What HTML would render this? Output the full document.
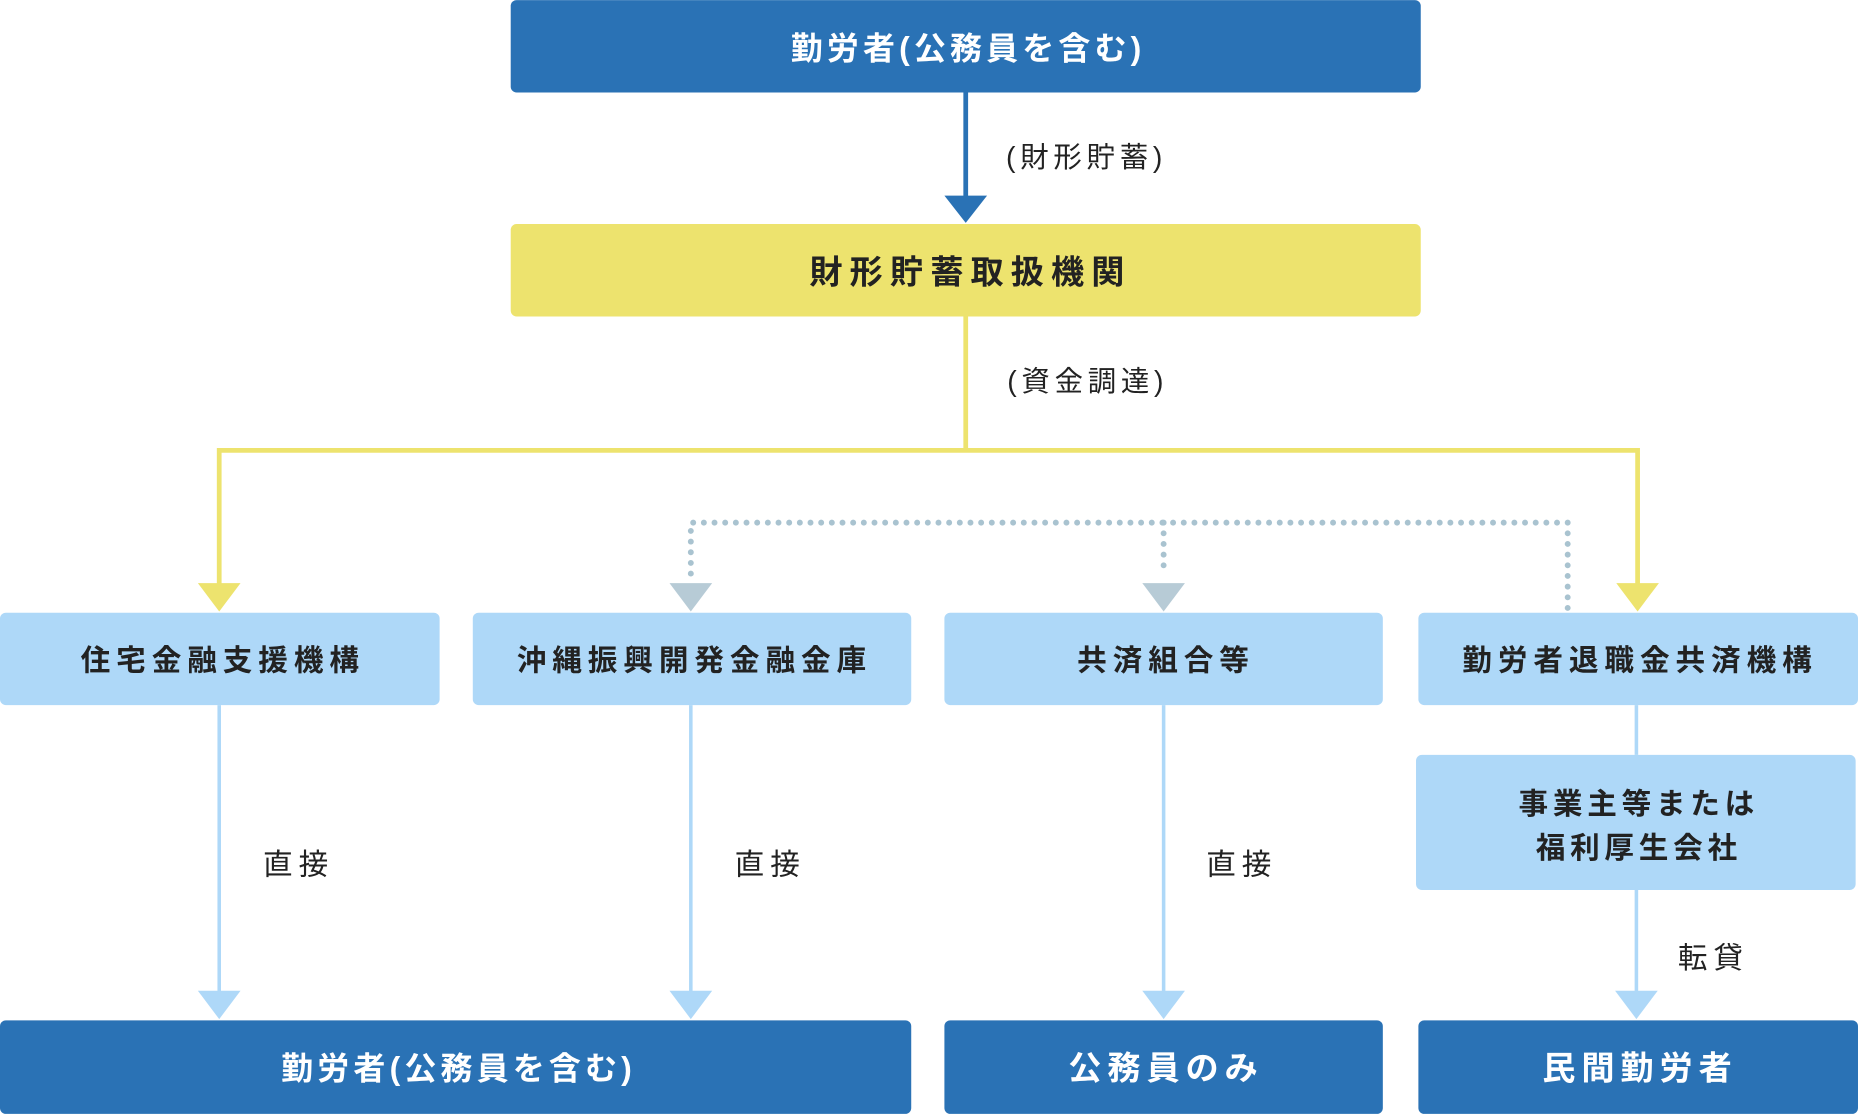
<!DOCTYPE html>
<html><head><meta charset="utf-8"><style>
html,body{margin:0;padding:0;background:#fff;}
svg{display:block;}
text{font-family:"Liberation Sans","Noto Sans CJK JP",sans-serif;}
.w{fill:#fff;font-weight:bold;font-size:27px;letter-spacing:3.5px;}
.d{fill:#222;font-weight:bold;font-size:25px;letter-spacing:5px;}
.l{fill:#222;font-size:24px;letter-spacing:4px;}
</style></head><body>
<svg width="1858" height="1114" viewBox="0 0 1568 940" xmlns="http://www.w3.org/2000/svg">
<rect x="431" y="0" width="768" height="78" rx="5" fill="#2a72b5"/>
<text class="w" x="817" y="50" text-anchor="middle">勤労者(公務員を含む)</text>
<line x1="815" y1="78" x2="815" y2="168" stroke="#2a72b5" stroke-width="4"/>
<polygon points="797,165 833,165 815,188" fill="#2a72b5"/>
<text class="l" x="849" y="141">(財形貯蓄)</text>
<rect x="431" y="189" width="768" height="78" rx="5" fill="#ede36e"/>
<text class="d" x="819" y="239" text-anchor="middle" style="font-size:28px;letter-spacing:6px">財形貯蓄取扱機関</text>
<polyline points="815,267 815,380" fill="none" stroke="#ede36e" stroke-width="4"/>
<polyline points="185,495 185,380 1382,380 1382,495" fill="none" stroke="#ede36e" stroke-width="4"/>
<polygon points="167,492 203,492 185,516" fill="#ede36e"/>
<polygon points="1364,492 1400,492 1382,516" fill="#ede36e"/>
<text class="l" x="850" y="330">(資金調達)</text>
<g stroke="#a9c3d0" stroke-width="5" stroke-linecap="round" stroke-dasharray="0 9" fill="none">
<polyline points="583,484 583,441 1323,441 1323,514"/>
<line x1="982" y1="441" x2="982" y2="484"/>
</g>
<polygon points="565,492 601,492 583,516" fill="#b7cbd6"/>
<polygon points="964,492 1000,492 982,516" fill="#b7cbd6"/>
<g fill="#aed8f8">
<rect x="0" y="517" width="371" height="78" rx="5"/>
<rect x="399" y="517" width="370" height="78" rx="5"/>
<rect x="797" y="517" width="370" height="78" rx="5"/>
<rect x="1197" y="517" width="371" height="78" rx="5"/>
<rect x="1195" y="637" width="371" height="114" rx="5"/>
</g>
<text class="d" x="188" y="566" text-anchor="middle">住宅金融支援機構</text>
<text class="d" x="586" y="566" text-anchor="middle">沖縄振興開発金融金庫</text>
<text class="d" x="984" y="566" text-anchor="middle">共済組合等</text>
<text class="d" x="1384" y="566" text-anchor="middle">勤労者退職金共済機構</text>
<text class="d" x="1383" y="687" text-anchor="middle" style="letter-spacing:4px">事業主等または</text>
<text class="d" x="1383" y="724" text-anchor="middle" style="letter-spacing:4px">福利厚生会社</text>
<g stroke="#aed8f8" stroke-width="3">
<line x1="185" y1="595" x2="185" y2="838"/>
<line x1="583" y1="595" x2="583" y2="838"/>
<line x1="982" y1="595" x2="982" y2="838"/>
<line x1="1381" y1="595" x2="1381" y2="637"/>
<line x1="1381" y1="751" x2="1381" y2="838"/>
</g>
<g fill="#aed8f8">
<polygon points="167,836 203,836 185,860"/>
<polygon points="565,836 601,836 583,860"/>
<polygon points="964,836 1000,836 982,860"/>
<polygon points="1363,836 1399,836 1381,860"/>
</g>
<text class="l" x="222" y="738" style="font-size:25px;letter-spacing:5px">直接</text>
<text class="l" x="620" y="738" style="font-size:25px;letter-spacing:5px">直接</text>
<text class="l" x="1018" y="738" style="font-size:25px;letter-spacing:5px">直接</text>
<text class="l" x="1416" y="817" style="font-size:25px;letter-spacing:5px">転貸</text>
<g fill="#2a72b5">
<rect x="0" y="861" width="769" height="79" rx="5"/>
<rect x="797" y="861" width="370" height="79" rx="5"/>
<rect x="1197" y="861" width="371" height="79" rx="5"/>
</g>
<text class="w" x="387" y="911" text-anchor="middle">勤労者(公務員を含む)</text>
<text class="w" x="984" y="911" text-anchor="middle" style="font-size:28px;letter-spacing:5px">公務員のみ</text>
<text class="w" x="1384" y="911" text-anchor="middle" style="font-size:28px;letter-spacing:5px">民間勤労者</text>
</svg>
</body></html>
